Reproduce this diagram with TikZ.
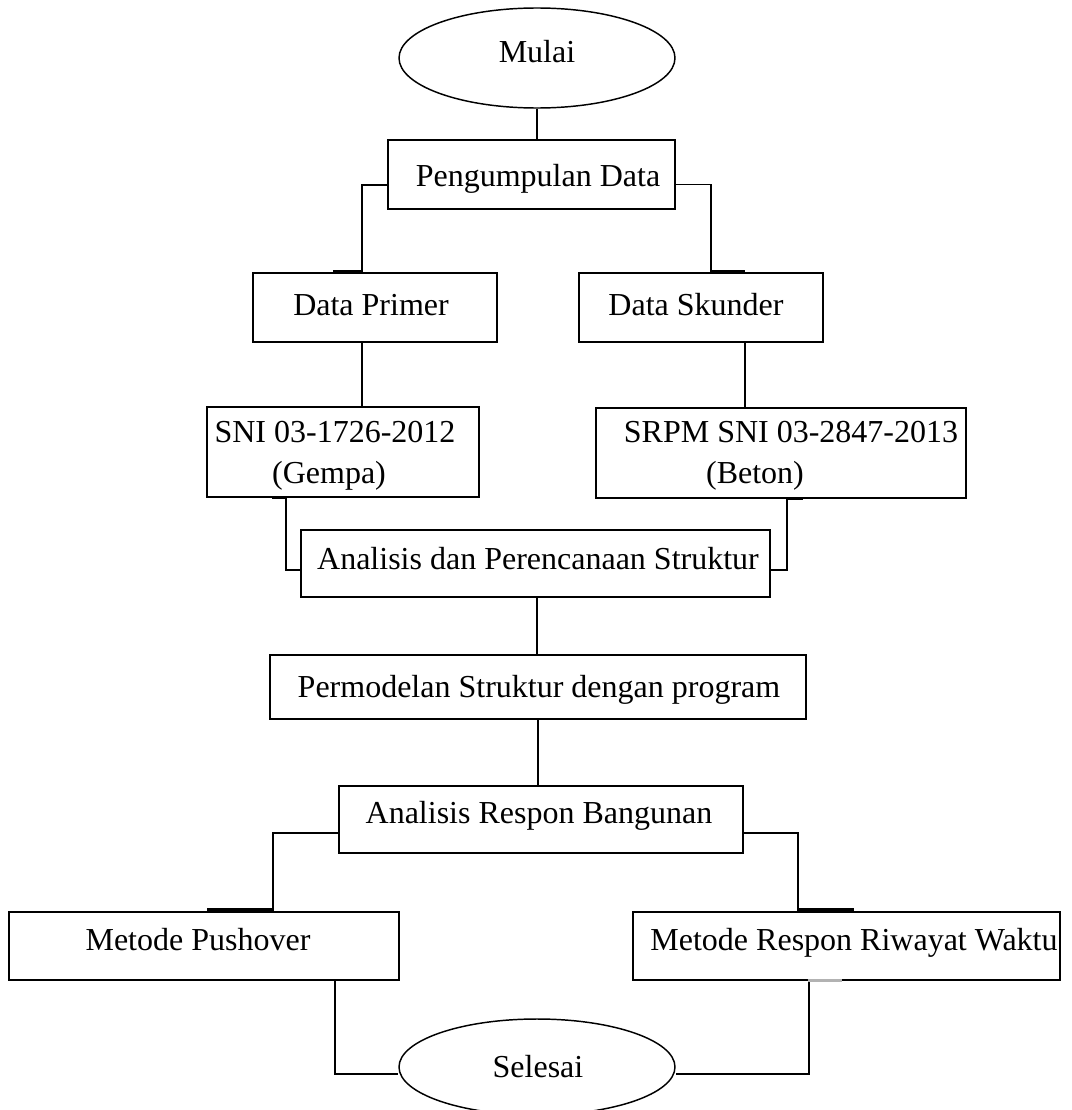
\documentclass[tikz,border=0pt]{standalone}
\usepackage{fontspec}
\setmainfont{Liberation Serif}
\usetikzlibrary{shapes.geometric,calc}
\begin{document}
\begin{tikzpicture}[x=0.75pt,y=-0.75pt,
  box/.style={draw, line width=1.1pt, rectangle, inner sep=0pt},
  oval/.style={draw, line width=1.1pt, ellipse, inner sep=0pt},
  sz/.style 2 args={minimum width=#1*0.75pt, minimum height=#2*0.75pt},
  lbl/.style={anchor=base, inner sep=0pt, font=\fontsize{24}{29}\selectfont},
  link/.style={line width=1.1pt},
  seam/.style={line width=2.4pt}]
\useasboundingbox (0,0) rectangle (1071,1110);
\fill[white] (0,0) rectangle (1071,1110);
\clip (0,0) rectangle (1071,1110);

% shapes
\node[oval, sz={276}{100}] (mulai) at (537,58) {};
\node[box, sz={287}{69}] (pg) at (531.5,174.5) {};
\node[box, sz={244}{69}] (pd) at (375,307.5) {};
\node[box, sz={244}{69}] (ds) at (701,307.5) {};
\node[box, sz={272}{90}] (sni) at (343,452) {};
\node[box, sz={370}{90}] (srpm) at (781,453) {};
\node[box, sz={469}{67}] (ana) at (535.5,563.5) {};
\node[box, sz={536}{64}] (pm) at (538,687) {};
\node[box, sz={404}{67}] (ar) at (541,819.5) {};
\node[box, sz={390}{68}] (mp) at (204,946) {};
\node[box, sz={427}{68}] (mr) at (846.5,946) {};
\node[oval, sz={276}{96}] (selesai) at (537,1067) {};

% texts
\node[lbl] (t-mulai) at (537,62) {Mulai};
\node[lbl] (t-pg) at (538,186) {Pengumpulan Data};
\node[lbl] (t-pd) at (371,315) {Data Primer};
\node[lbl] (t-ds) at (696,315) {Data Skunder};
\node[lbl] (t-sni1) at (335,442) {SNI 03-1726-2012};
\node[lbl] (t-sni2) at (329,483) {(Gempa)};
\node[lbl] (t-srpm1) at (791,442) {SRPM SNI 03-2847-2013};
\node[lbl] (t-srpm2) at (755,483) {(Beton)};
\node[lbl] (t-ana) at (538,569) {Analisis dan Perencanaan Struktur};
\node[lbl] (t-pm) at (539,697) {Permodelan Struktur dengan program};
\node[lbl] (t-ar) at (539,823) {Analisis Respon Bangunan};
\node[lbl] (t-mp) at (198,950) {Metode Pushover};
\node[lbl] (t-mr) at (854,950) {Metode Respon Riwayat Waktu};
\node[lbl] (t-sel) at (538,1077) {Selesai};

% connectors
\draw[link] (mulai.south) -- (mulai.south |- pg.north);
\draw[link] ($(pg.west)+(0,10.5)$) -| ($(pd.north)+(-13,0)$);
\draw[link] ($(pg.east)+(0,10)$) -| ($(ds.north)+(10,0)$);
\draw[link] ($(pd.south)+(-13,0)$) -- ($(sni.north)+(19,0)$);
\draw[link] ($(ds.south)+(44,0)$) -- ($(srpm.north)+(-36,0)$);
\draw[link] ($(sni.south)+(-57,0)$) |- ($(ana.west)+(0,6.5)$);
\draw[link] ($(srpm.south)+(6,0)$) |- ($(ana.east)+(0,6.5)$);
\draw[link] ($(ana.south)+(1.5,0)$) -- ($(pm.north)+(-1,0)$);
\draw[link] (pm.south) -- (pm.south |- ar.north);
\draw[link] ($(ar.west)+(0,13.5)$) -| ($(mp.north)+(69,0)$);
\draw[link] ($(ar.east)+(0,13.5)$) -| ($(mr.north)+(-48.5,0)$);
\draw[link] ($(mp.south)+(131,0)$) |- ($(selesai.west)+(0,7)$);
\draw[link] ($(mr.south)+(-37.5,0)$) |- ($(selesai.east)+(0,7)$);

% short thick seams where connectors meet boxes
\draw[seam] ($(pd.north)+(-42,-1)$) -- ($(pd.north)+(-13,-1)$);
\draw[seam] ($(ds.north)+(10,-1)$) -- ($(ds.north)+(44,-1)$);
\draw[seam] ($(sni.south)+(-71,0)$) -- ($(sni.south)+(-57,0)$);
\draw[seam] ($(srpm.south)+(6,0)$) -- ($(srpm.south)+(22,0)$);
\draw[seam] ($(mp.north)+(3,-1.5)$) -- ($(mp.north)+(69,-1.5)$);
\draw[seam] ($(mr.north)+(-48.5,-1.5)$) -- ($(mr.north)+(7.5,-1.5)$);
\draw[seam, gray!60] ($(mr.south)+(-39,-0.5)$) -- ($(mr.south)+(-4.5,-0.5)$);
\end{tikzpicture}
\end{document}
